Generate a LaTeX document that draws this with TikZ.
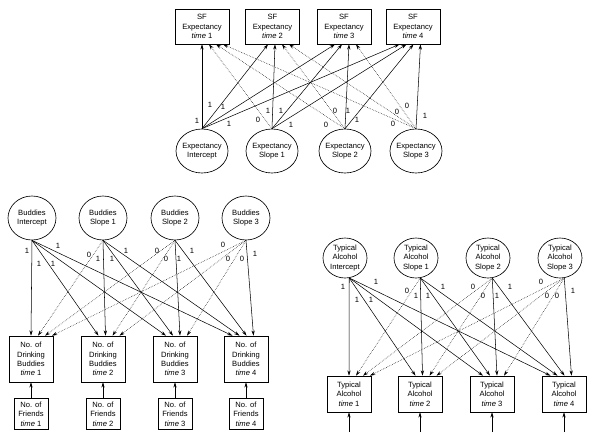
\documentclass[tikz,border=0pt]{standalone}
\usepackage{fontspec}
\setmainfont{Liberation Sans}
\usetikzlibrary{arrows.meta, positioning, shapes.geometric, calc}

\begin{document}
\begin{tikzpicture}[
    x=0.03cm, y=-0.03cm,
    every node/.style={font=\fontsize{6.5}{8}\selectfont},
    box/.style={rectangle, draw, line width=0.55pt, align=center, inner sep=0pt},
    latent/.style={ellipse, draw, line width=0.55pt, align=center, inner sep=0pt},
    arrow/.style={-{Stealth[length=4.5pt, width=2.8pt]}, line width=0.45pt},
    zero/.style={arrow, densely dotted},
    wt/.style={inner sep=0pt}
]
\useasboundingbox (0,0) rectangle (600,442);

% SF expectancy growth model
\foreach \x [count=\i] in {202,272.5,344,413}
  \node[box, minimum width=1.62cm, minimum height=1.05cm] (sf\i) at (\x,26.5) {SF\\Expectancy\\\textit{time} \i};
\foreach \x/\t [count=\j] in {202/Intercept, 272/Slope 1, 345/Slope 2, 416/Slope 3}
  \node[latent, inner xsep=-1.5pt, minimum width=1.56cm, minimum height=1.32cm] (e\j) at (\x,151) {Expectancy\\\t};

\foreach \j in {1,...,4}
  \foreach \i in {1,...,4} {
    \pgfmathsetmacro\dx{7*(\j-1)-4.5*(\i-1)}
    \ifnum\i<\j \def\lstyle{zero}\else\def\lstyle{arrow}\fi
    \draw[\lstyle] (e\j.north) -- ($(sf\i.south)+(\dx,0)$);
  }

\foreach \x/\y/\v [count=\k] in {197/121/1, 210/105/1, 223/107/1, 229/124/1,
    258/120/0, 268/111/1, 281/111/1, 291/125/1,
    326/125/0, 335/111/0, 348/111/1, 357/120/1,
    393/124/0, 397/112/0, 407/106/0, 425/116/1}
  \node[wt] (we\k) at (\x,\y) {\v};

% drinking buddies growth model
\foreach \x/\t [count=\j] in {32/Intercept, 103/Slope 1, 175/Slope 2, 246/Slope 3}
  \node[latent, minimum width=1.44cm, minimum height=1.32cm] (b\j) at (\x,218) {Buddies\\\t};
\foreach \x [count=\i] in {31,103,175,246} {
  \node[box, minimum width=1.32cm, minimum height=1.38cm] (d\i) at (\x,359) {No. of\\Drinking\\Buddies\\\textit{time} \i};
  \node[box, minimum width=1.02cm, minimum height=0.93cm, below=0.48cm of d\i] (f\i) {No. of\\Friends\\\textit{time} \i};
  \draw[arrow] (f\i) -- (d\i);
}

\foreach \j in {1,...,4}
  \foreach \i in {1,...,4} {
    \pgfmathsetmacro\dx{7*(\j-1)-4.5*(\i-1)}
    \ifnum\i<\j \def\lstyle{zero}\else\def\lstyle{arrow}\fi
    \draw[\lstyle] (b\j.south) -- ($(d\i.north)+(\dx,0)$);
  }

\foreach \x/\y/\v [count=\k] in {27/251/1, 39/264/1, 53/264/1, 58/246/1,
    89/255/0, 98/259/1, 112/259/1, 126/251/1,
    157/251/0, 166/259/0, 179/259/1, 192/251/1,
    223/245/0, 228/259/0, 242/259/0, 255/254/1}
  \node[wt] (wb\k) at (\x,\y) {\v};

% typical alcohol growth model
\foreach \x/\t [count=\j] in {345/Intercept, 416/Slope 1, 488/Slope 2, 560/Slope 3}
  \node[latent, minimum width=1.32cm, minimum height=1.2cm] (t\j) at (\x,258) {Typical\\Alcohol\\\t};
\foreach \x [count=\i] in {349,420,492,564} {
  \node[box, minimum width=1.32cm, minimum height=1.08cm] (a\i) at (\x,394) {Typical\\Alcohol\\\textit{time} \i};
  \coordinate (in\i) at (\x,432);
  \draw[arrow] (in\i) -- (a\i);
}

\foreach \j in {1,...,4}
  \foreach \i in {1,...,4} {
    \pgfmathsetmacro\dx{7*(\j-1)-4.5*(\i-1)}
    \ifnum\i<\j \def\lstyle{zero}\else\def\lstyle{arrow}\fi
    \draw[\lstyle] (t\j.-78) -- ($(a\i.north)+(\dx,0)$);
  }

\foreach \x/\y/\v [count=\k] in {343/287/1, 357/300/1, 371/300/1, 376/282/1,
    407/291/0, 416/296/1, 428/296/1, 443/287/1,
    473/287/0, 483/296/0, 497/296/1, 510/287/1,
    541/282/0, 547/296/0, 557/296/0, 573/291/1}
  \node[wt] (wt\k) at (\x,\y) {\v};

\end{tikzpicture}
\end{document}
